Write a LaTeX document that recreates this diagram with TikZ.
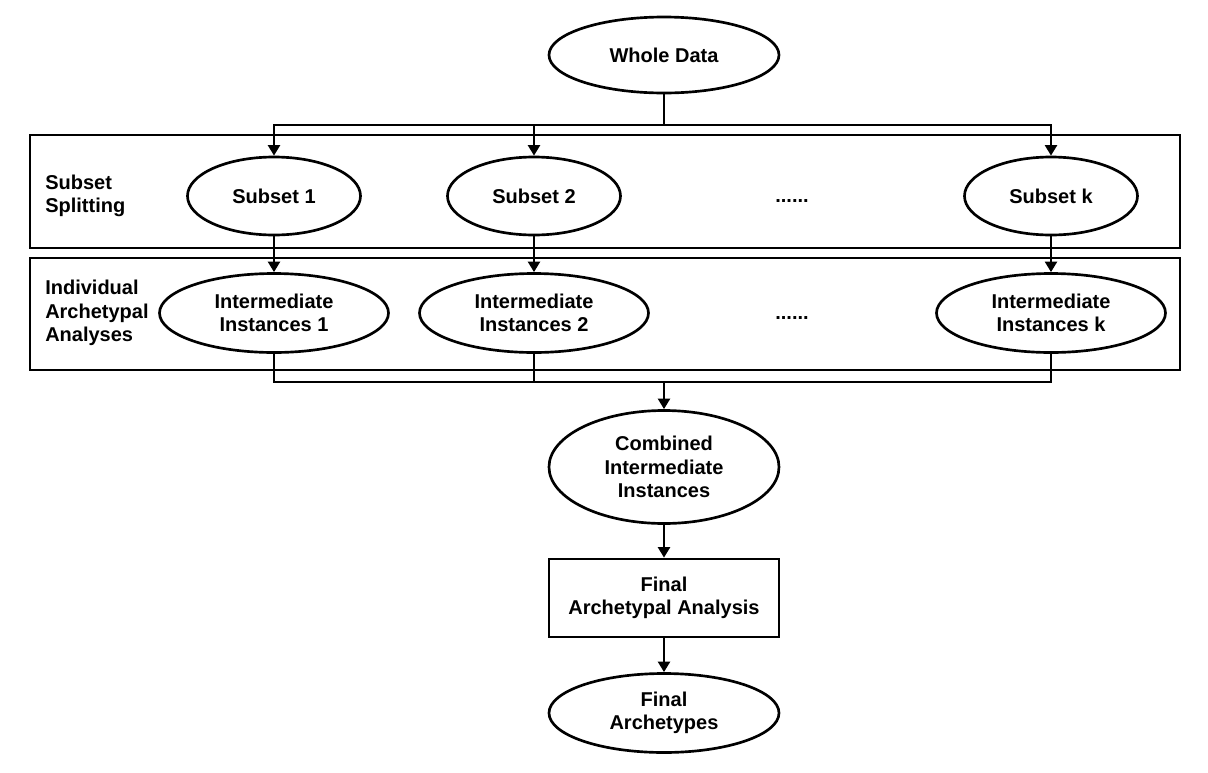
\documentclass[tikz,border=0pt]{standalone}
\usepackage{fontspec}
\setmainfont{Liberation Sans}
\usetikzlibrary{shapes.geometric}
\usetikzlibrary{arrows.meta}
\tikzset{
  blob/.style={draw,ellipse,line width=2pt,inner sep=0pt,align=center},
  stagebox/.style={draw,rectangle,line width=2pt,inner sep=0pt,align=center},
  flow/.style={line width=2.2pt,-{Triangle[width=9pt,length=8pt]}},
  link/.style={line width=2.2pt},
  tag/.style={anchor=west,align=left,inner sep=0pt}
}
\begin{document}
\begin{tikzpicture}[x=0.75pt,y=-0.75pt,font=\fontsize{15}{17.6}\selectfont\bfseries]
\useasboundingbox (0,0) rectangle (1208,772);
\def\w{172.5pt};
% panels
\draw[line width=2.2pt] (30,135) rectangle (1180,248);
\draw[line width=2.2pt] (30,258) rectangle (1180,370);
\node[tag] (lblsplit) at (45,196) {Subset\\Splitting};
\node[tag] (lblindiv) at (45,313) {Individual\\Archetypal\\Analyses};
% nodes
\node[blob,minimum width=\w,minimum height=57pt] (whole) at (664,55) {Whole Data};
\node[blob,minimum width=129.75pt,minimum height=58.5pt] (s1) at (274,196) {Subset 1};
\node[blob,minimum width=129.75pt,minimum height=58.5pt] (s2) at (534,196) {Subset 2};
\node[blob,minimum width=129.75pt,minimum height=58.5pt] (sk) at (1051,196) {Subset k};
\node (dots1) at (792,201) {......};
\node[blob,minimum width=171.75pt,minimum height=59.25pt] (i1) at (274,313) {Intermediate\\Instances 1};
\node[blob,minimum width=171.75pt,minimum height=59.25pt] (i2) at (534,313) {Intermediate\\Instances 2};
\node[blob,minimum width=171.75pt,minimum height=59.25pt] (ik) at (1051,313) {Intermediate\\Instances k};
\node (dots2) at (792,318) {......};
\node[blob,minimum width=\w,minimum height=84.75pt] (comb) at (664,467) {Combined\\Intermediate\\Instances};
\node[stagebox,minimum width=\w,minimum height=58.5pt] (final) at (664,598) {Final\\Archetypal Analysis};
\node[blob,minimum width=\w,minimum height=59.25pt] (arch) at (664,713) {Final\\Archetypes};
% connectors
\coordinate (split) at (664,125);
\coordinate (merge) at (664,382);
\draw[link] (whole) -- (split);
\foreach \n in {s1,s2,sk}
  \draw[flow] (split) -| (\n);
\draw[flow] (s1) -- (i1);
\draw[flow] (s2) -- (i2);
\draw[flow] (sk) -- (ik);
\foreach \n in {i1,i2,ik}
  \draw[link] (\n) |- (merge);
\draw[flow] (merge) -- (comb);
\draw[flow] (comb) -- (final);
\draw[flow] (final) -- (arch);
\end{tikzpicture}
\end{document}
